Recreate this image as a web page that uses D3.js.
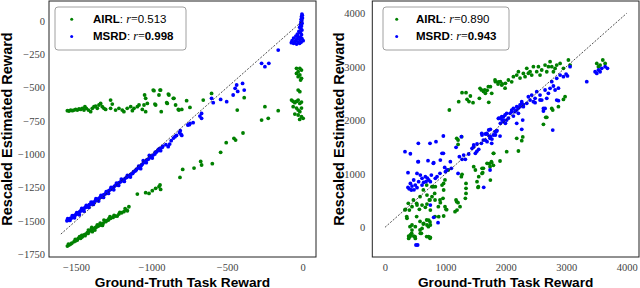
<!DOCTYPE html>
<html><head><meta charset="utf-8">
<script src="https://cdn.jsdelivr.net/npm/d3@7/dist/d3.min.js"></script>
<style>body{margin:0;background:#fff}svg{display:block}</style>
</head><body>
<svg id="c" width="640" height="288"></svg>
<script>
// ---------- data ----------
const leftTicksX = [-1500, -1000, -500, 0];
const leftTicksY = [0, -250, -500, -750, -1000, -1250, -1500, -1750];
const rightTicksX = [0, 1000, 2000, 3000, 4000];
const rightTicksY = [0, 1000, 2000, 3000, 4000];
const seriesNames = ["AIRL", "MSRD"];
const leftR = ["0.513", "0.998"];
const rightR = ["0.890", "0.943"];
const xTitle = "Ground-Truth Task Reward";
const yTitle = "Rescaled Estimated Reward";
const leftRefLine = [[-1600, -1600], [0, 0]];
const rightRefLine = [[0, 0], [4000, 4000]];

const leftAIRL = [
[-1557,-675],[-1546,-677],[-1535,-670],[-1524,-675],[-1513,-670],[-1502,-665],[-1491,-670],[-1480,-662],[-1469,-665],[-1458,-657],
[-1447,-670],[-1441,-645],[-1432,-657],[-1418,-670],[-1403,-682],[-1392,-657],[-1381,-645],[-1370,-640],[-1359,-657],[-1348,-632],
[-1337,-620],[-1326,-645],[-1315,-657],[-1304,-665],[-1271,-595],[-1271,-657],[-1260,-625],[-1238,-670],[-1216,-657],[-1194,-670],
[-1183,-682],[-1161,-657],[-1138,-645],[-1127,-675],[-1116,-657],[-1094,-645],[-1083,-632],[-1061,-665],[-1050,-632],[-1039,-682],
[-1046,-557],[-1039,-582],[-1028,-620],[-984,-525],[-973,-632],[-951,-557],[-940,-520],[-936,-682],[-896,-620],[-885,-557],
[-852,-582],[-841,-632],[-819,-670],[-989,-520],[-944,-520],[-978,-625],[-889,-550],[-900,-615],[-856,-582],[-823,-665],
[-800,-665],[-768,-600],[-746,-650],[-658,-595],[-603,-545],[-387,-577],[-433,-670],[-250,-645],[-272,-745],[-228,-732],[-162,-675],
[-41,-357],[-30,-382],[-19,-357],[-8,-370],[-30,-420],[-19,-407],[-8,-432],[-41,-395],[-14,-445],
[-30,-520],[-19,-532],[-74,-595],[-63,-605],[-52,-615],[-41,-605],[-30,-595],[-19,-620],[-8,-610],
[-63,-645],[-41,-655],[-30,-670],[-19,-682],[-8,-655],[-52,-700],[-30,-707],[-8,-720],[3,-732],[-20,-740],
[-1557,-1690],[-1535,-1675],[-1513,-1657],[-1491,-1645],[-1469,-1632],[-1458,-1620],[-1447,-1607],[-1436,-1600],[-1425,-1590],[-1414,-1582],
[-1403,-1570],[-1392,-1582],[-1381,-1557],[-1370,-1550],[-1352,-1540],[-1337,-1532],[-1321,-1520],[-1304,-1507],[-1286,-1495],[-1271,-1482],
[-1255,-1475],[-1238,-1465],[-1216,-1450],[-1198,-1440],[-1183,-1432],[-1167,-1420],[-1150,-1395],[-1546,-1682],[-1502,-1650],[-1476,-1620],
[-1418,-1570],[-1396,-1550],[-1359,-1532],[-1315,-1495],[-1282,-1485],[-1227,-1465],
[-1550,-1675],[-1528,-1668],[-1505,-1640],[-1485,-1632],[-1462,-1610],[-1440,-1612],[-1420,-1595],[-1398,-1565],[-1375,-1570],[-1362,-1545],
[-1340,-1518],[-1325,-1535],[-1298,-1500],[-1275,-1470],[-1248,-1460],[-1210,-1438],[-1175,-1410],[-1160,-1425],
[-1094,-1300],[-1039,-1290],[-1017,-1295],[-995,-1275],[-973,-1257],[-951,-1245],[-940,-1265],
[-944,-1232],[-812,-1175],[-794,-1115],[-719,-1105],[-675,-1055],[-669,-1082],[-598,-1072],[-543,-987],[-506,-915],[-455,-882],[-444,-895],[-395,-842]
];

const leftMSRD = [
[-1560,-1500],[-1552,-1495],[-1545,-1490],[-1538,-1482],[-1530,-1480],[-1520,-1470],[-1512,-1462],[-1505,-1458],[-1498,-1450],[-1490,-1448],
[-1482,-1440],[-1475,-1432],[-1468,-1425],[-1460,-1420],[-1452,-1415],[-1445,-1405],[-1438,-1400],[-1430,-1395],[-1420,-1392],[-1412,-1380],
[-1405,-1378],[-1398,-1370],[-1390,-1362],[-1380,-1360],[-1372,-1350],[-1365,-1345],[-1355,-1340],[-1348,-1332],[-1340,-1325],[-1330,-1320],
[-1322,-1310],[-1315,-1305],[-1305,-1298],[-1298,-1290],[-1290,-1280],[-1280,-1272],[-1270,-1265],[-1262,-1258],[-1252,-1250],[-1245,-1240],
[-1235,-1232],[-1225,-1228],[-1215,-1215],[-1205,-1208],[-1195,-1200],[-1185,-1195],[-1175,-1182],[-1165,-1175],[-1155,-1168],[-1145,-1160],
[-1135,-1150],[-1125,-1145],[-1115,-1130],[-1100,-1115],[-1090,-1105],[-1078,-1098],[-1068,-1085],[-1060,-1075],[-1050,-1062],[-1040,-1055],
[-1030,-1042],[-1020,-1038],[-1010,-1025],[-1000,-1015],[-990,-1008],[-978,-1000],[-968,-985],[-958,-975],[-944,-957],[-930,-950],
[-1555,-1485],[-1540,-1498],[-1525,-1462],[-1510,-1478],[-1495,-1440],[-1478,-1455],[-1462,-1408],[-1447,-1428],[-1432,-1385],[-1415,-1400],
[-1400,-1360],[-1385,-1378],[-1368,-1335],[-1350,-1352],[-1335,-1310],[-1318,-1325],[-1300,-1282],[-1285,-1295],[-1268,-1250],[-1250,-1268],
[-1232,-1218],[-1218,-1235],[-1200,-1188],[-1180,-1205],[-1160,-1160],[-1140,-1172],[-1120,-1135],[-1105,-1125],[-1085,-1090],[-1072,-1110],
[-1055,-1050],[-1035,-1065],[-1015,-1010],[-995,-1030],[-975,-985],[-955,-965],[-940,-975],[-925,-940],[-905,-930],[-880,-925],[-870,-900],[-855,-880],
[-890,-945],[-845,-870],[-835,-860],[-815,-840],[-810,-825],[-805,-852],[-800,-860],[-760,-782],[-750,-780],[-725,-765],
[-746,-770],[-669,-695],[-669,-732],[-680,-715],[-603,-582],[-592,-615],[-543,-590],[-503,-607],[-460,-557],[-447,-507],
[-437,-482],[-398,-470],[-387,-520],[-430,-530],[-272,-320],[-250,-345],[-224,-320],[-162,-220],
[-5,50],[-3,40],[-8,30],[-2,20],[-10,10],[-6,0],[-12,-10],[-4,-20],[-15,-30],[-8,-40],[-20,-50],[-12,-60],[-5,-70],[-25,-80],[-15,-90],
[-35,-100],[-8,-105],[-45,-115],[-30,-120],[-15,-125],[-60,-130],[-40,-140],[-20,-140],[-5,-135],[-70,-150],[-50,-155],[-30,-160],
[-10,-160],[3,-150],[-60,-170],[-40,-175],[-20,-170],[-75,-165]
];

const rightAIRL = [
[1065,2193],[1220,2348],[1275,2517],[1341,2517],[1358,2392],[1390,2350],[1413,2454],[1457,2330],[1562,2411],[1595,2567],
[1630,2540],[1661,2504],[1717,2336],[1744,2629],[1690,2560],[1827,2722],[1871,2679],[1910,2722],[1940,2680],[1993,2691],
[1573,2597],[1650,2570],[1711,2628],[1766,2504],[1821,2753],[1877,2720],[1932,2659],[1987,2600],[2042,2753],[2097,2720],
[2125,2815],[2180,2846],[2208,2909],[2235,2790],[2290,2877],[2318,2815],[2346,2971],[2401,2909],[2456,3002],[2511,2909],
[2539,3002],[2594,2940],[2649,3033],[2677,2908],[2732,3095],[2760,3002],[2787,2908],[2842,3033],[2898,3064],[2953,2971],
[3035,3127],[3063,3033],[2815,2970],[2705,3002],[2566,2846],[2428,2846],[2373,2880],
[3505,3064],[3560,3033],[3604,3127],[3643,3064],[3532,3002],
[2622,1924],[2660,2055],[2776,2192],[2870,2254],[2953,2391],[2980,2442],[2760,2223],[2677,2055],
[2180,1663],[2263,1619],[2280,1690],[2208,1426],[2014,1413],[1794,1382],[1904,1239],[1766,1208],[1794,1158],[1739,1133],
[1725,1190],[1628,1102],[1617,1021],[1545,760],[1551,946],[1523,852],[1540,746],[1606,1102],[1606,1008],[1689,1195],
[1761,1226],[1799,1382],[1744,883],[1468,1133],[1496,1071],
[1209,1632],[1187,1663],[1269,1694],[1209,1550],[1264,946],[1275,990],[1341,821],[1341,728],[1341,634],[1330,541],
[1176,510],[1209,460],[1192,323],[1159,293],[1187,480],[1242,386],
[944,790],[971,697],[960,541],[916,460],[1010,336],[971,211],[889,198],[822,634],[778,572],[734,510],
[695,603],[751,323],[668,373],[723,136],[695,43],[751,43],[640,74],[613,-20],[585,-113],[502,12],
[447,-51],[420,-144],[392,-163],[475,-163],[447,43],[364,167],[337,336],[403,323],[447,385],[530,416],
[569,336],[613,416],[392,-207],[502,-207],[723,-176],[750,-190],[602,-113],[695,435],[778,759],[833,759],
[1049,1072],[993,885],[970,820],[910,511],[883,386],[993,386],[1020,330],[800,760],[828,510],[745,511],
[635,698],[690,790],[580,573],[524,449],[470,510],[386,449],[331,324],[360,200],[414,12],[441,-112],
[497,-174],[414,-174],[580,-50],[635,60],[690,137],[745,100],[580,110],[690,-174],[745,-205],[718,12],[828,200],[524,200]
];

const rightMSRD = [
[331,1414],[420,1375],[552,1227],[552,1570],[745,1570],[844,1601],[966,1707],[966,1383],[944,1382],[800,1196],
[910,1009],[1264,1694],[546,1226],[712,1245],[806,1208],[916,1257],[1082,1226],[988,1120],[1027,1071],[1000,1040],
[1098,1102],[1209,1008],[1231,1320],[1302,1351],[1385,1370],[1441,1476],[1468,1538],[1551,1457],[1595,1569],[1661,1631],
[1728,1706],[1689,1743],[1744,1831],[1827,1725],[1854,1806],[1910,1943],[1965,2005],[1275,1270],[1330,1270],[1496,1382],
[1520,1420],[1176,1495],[1468,1507],[1523,1557],[1606,1725],[1661,1744],[1717,1819],[1744,1694],[1689,1601],[1770,1650],
[1838,1788],[1882,2037],[1938,2006],[1993,1943],
[381,1021],[530,1008],[381,746],[420,821],[475,884],[502,790],[557,852],[613,915],[613,790],[668,946],
[679,852],[723,884],[767,977],[751,852],[833,915],[436,697],[447,771],[400,720],[585,977],[640,840],
[861,946],[700,920],[530,740],[480,700],
[513,-331],[541,-331],[806,186],[878,86],[751,416],[1634,747],
[1601,1756],[1683,1756],[1628,1631],[1739,1663],[1794,1725],[1821,1787],[1766,1569],[1904,1706],[1877,2036],[1932,2067],
[1987,2099],[1959,1974],[2014,2005],[2070,2130],[2097,2192],[2152,2161],[2125,2080],[2180,2254],[2208,2230],[2235,2286],
[2263,2317],[2290,2254],[2208,2130],[2180,1943],[2279,2005],[2263,1831],[2456,2348],[2484,2330],[2649,2223],[2622,2173],
[2776,1818],[2870,2367],[1739,1071],
[2842,2784],[2898,2846],[2997,2865],[3020,2830],[3063,3002],[2953,2815],[2760,2722],[2787,2641],[2815,2566],[2870,2600],
[2732,2597],[2704,2504],[2649,2566],[2677,2410],[2566,2472],[2594,2379],[2511,2535],[2484,2410],[2428,2472],[2401,2379],
[2346,2317],[2290,2286],[2373,2440],[2263,2348],[2235,2254],[2180,2192],[2125,2223],[2097,2161],[2014,2130],[1959,2068],
[1904,2040],[2042,2040],[2622,2223],[2842,2379],[2566,2380],
[3339,2722],[3505,2877],[3532,2940],[3587,2971],[3643,3002],[3681,2971],[3560,2908],[3477,2908]
];

// ---------- drawing ----------
const svg = d3.select("#c");
const colors = {AIRL: "#008000", MSRD: "#0000ff"};
const sansBold = "'Liberation Sans', Arial, sans-serif";
const serif = "'Liberation Serif', 'DejaVu Serif', serif";

function panel(cfg) {
  const x = d3.scaleLinear().domain(cfg.xDomain).range([cfg.left, cfg.right]);
  const y = d3.scaleLinear().domain(cfg.yDomain).range([cfg.top, cfg.bottom]);
  const g = svg.append("g");

  const fmt = d3.format("d");
  const ax = g.append("g").attr("transform", `translate(0,${cfg.bottom})`)
    .call(d3.axisBottom(x).tickValues(cfg.xTicks).tickSize(0).tickPadding(7).tickFormat(d => fmt(d)));
  const ay = g.append("g").attr("transform", `translate(${cfg.left},0)`)
    .call(d3.axisLeft(y).tickValues(cfg.yTicks).tickSize(0).tickPadding(cfg.yPad).tickFormat(d => fmt(d)));
  [ax, ay].forEach(a => {
    a.select(".domain").remove();
    a.selectAll("text").attr("font-family", serif).attr("font-size", 10.5).attr("fill", "#444");
  });

  const clip = "clip" + cfg.id;
  g.append("clipPath").attr("id", clip).append("rect")
    .attr("x", cfg.left).attr("y", cfg.top).attr("width", cfg.right - cfg.left).attr("height", cfg.bottom - cfg.top);
  const pg = g.append("g").attr("clip-path", `url(#${clip})`);
  [["AIRL", cfg.airl], ["MSRD", cfg.msrd]].forEach(([name, data]) => {
    pg.append("g").selectAll("circle").data(data).join("circle")
      .attr("cx", d => x(d[0])).attr("cy", d => y(d[1])).attr("r", 1.9)
      .attr("fill", colors[name]);
  });
  pg.append("path").datum(cfg.ref)
    .attr("d", d3.line().x(d => x(d[0])).y(d => y(d[1])))
    .attr("fill", "none").attr("stroke", "#222").attr("stroke-width", 0.8)
    .attr("stroke-dasharray", "2,1.5");

  g.append("rect").attr("x", cfg.left).attr("y", cfg.top)
    .attr("width", cfg.right - cfg.left).attr("height", cfg.bottom - cfg.top)
    .attr("fill", "none").attr("stroke", "#222").attr("stroke-width", 1);

  const L = cfg.legend;
  g.append("rect").attr("x", L.x).attr("y", L.y).attr("width", L.w).attr("height", L.h)
    .attr("rx", 3).attr("fill", "#fff").attr("stroke", "#888").attr("stroke-width", 0.8);
  seriesNames.forEach((name, i) => {
    const cy = L.y + 12.3 + i * 17.2;
    g.append("circle").attr("cx", L.mx).attr("cy", cy).attr("r", 1.5).attr("fill", colors[name]);
    const t = g.append("text").attr("x", L.tx).attr("y", cy + 3.8)
      .attr("font-family", sansBold).attr("font-size", 11.5).attr("fill", "#000");
    t.append("tspan").attr("font-weight", "bold").text(name);
    t.append("tspan").text(": ");
    t.append("tspan").attr("font-family", serif).attr("font-style", "italic").attr("font-size", 12).text("r");
    t.append("tspan").attr("font-family", serif).attr("font-size", 12).text("=");
    t.append("tspan").attr("font-weight", i === 1 ? "bold" : "normal").text(cfg.r[i]);
  });

  g.append("text").attr("x", (cfg.left + cfg.right) / 2).attr("y", 286.5)
    .attr("text-anchor", "middle").attr("font-family", sansBold).attr("font-weight", "bold")
    .attr("font-size", 13.7).text(xTitle);
  g.append("text").attr("transform", `translate(${cfg.yTitleX},${(cfg.top + cfg.bottom) / 2}) rotate(-90)`)
    .attr("text-anchor", "middle").attr("font-family", sansBold).attr("font-weight", "bold")
    .attr("font-size", 14.5).text(yTitle);
}

panel({
  id: "L", left: 49, right: 316, top: 1, bottom: 257,
  xDomain: [-1678.6, 88], yDomain: [147.75, -1772],
  xTicks: leftTicksX, yTicks: leftTicksY, yPad: 4,
  airl: leftAIRL, msrd: leftMSRD, ref: leftRefLine, r: leftR,
  legend: {x: 55, y: 7, w: 131, h: 43, mx: 71.7, tx: 93},
  yTitleX: 12
});
panel({
  id: "R", left: 372.3, right: 639, top: 1, bottom: 257,
  xDomain: [-210, 4203.6], yDomain: [4230, -555],
  xTicks: rightTicksX, yTicks: rightTicksY, yPad: 7,
  airl: rightAIRL, msrd: rightMSRD, ref: rightRefLine, r: rightR,
  legend: {x: 383, y: 7, w: 126, h: 43, mx: 396.7, tx: 416},
  yTitleX: 344
});
</script>
</body></html>
